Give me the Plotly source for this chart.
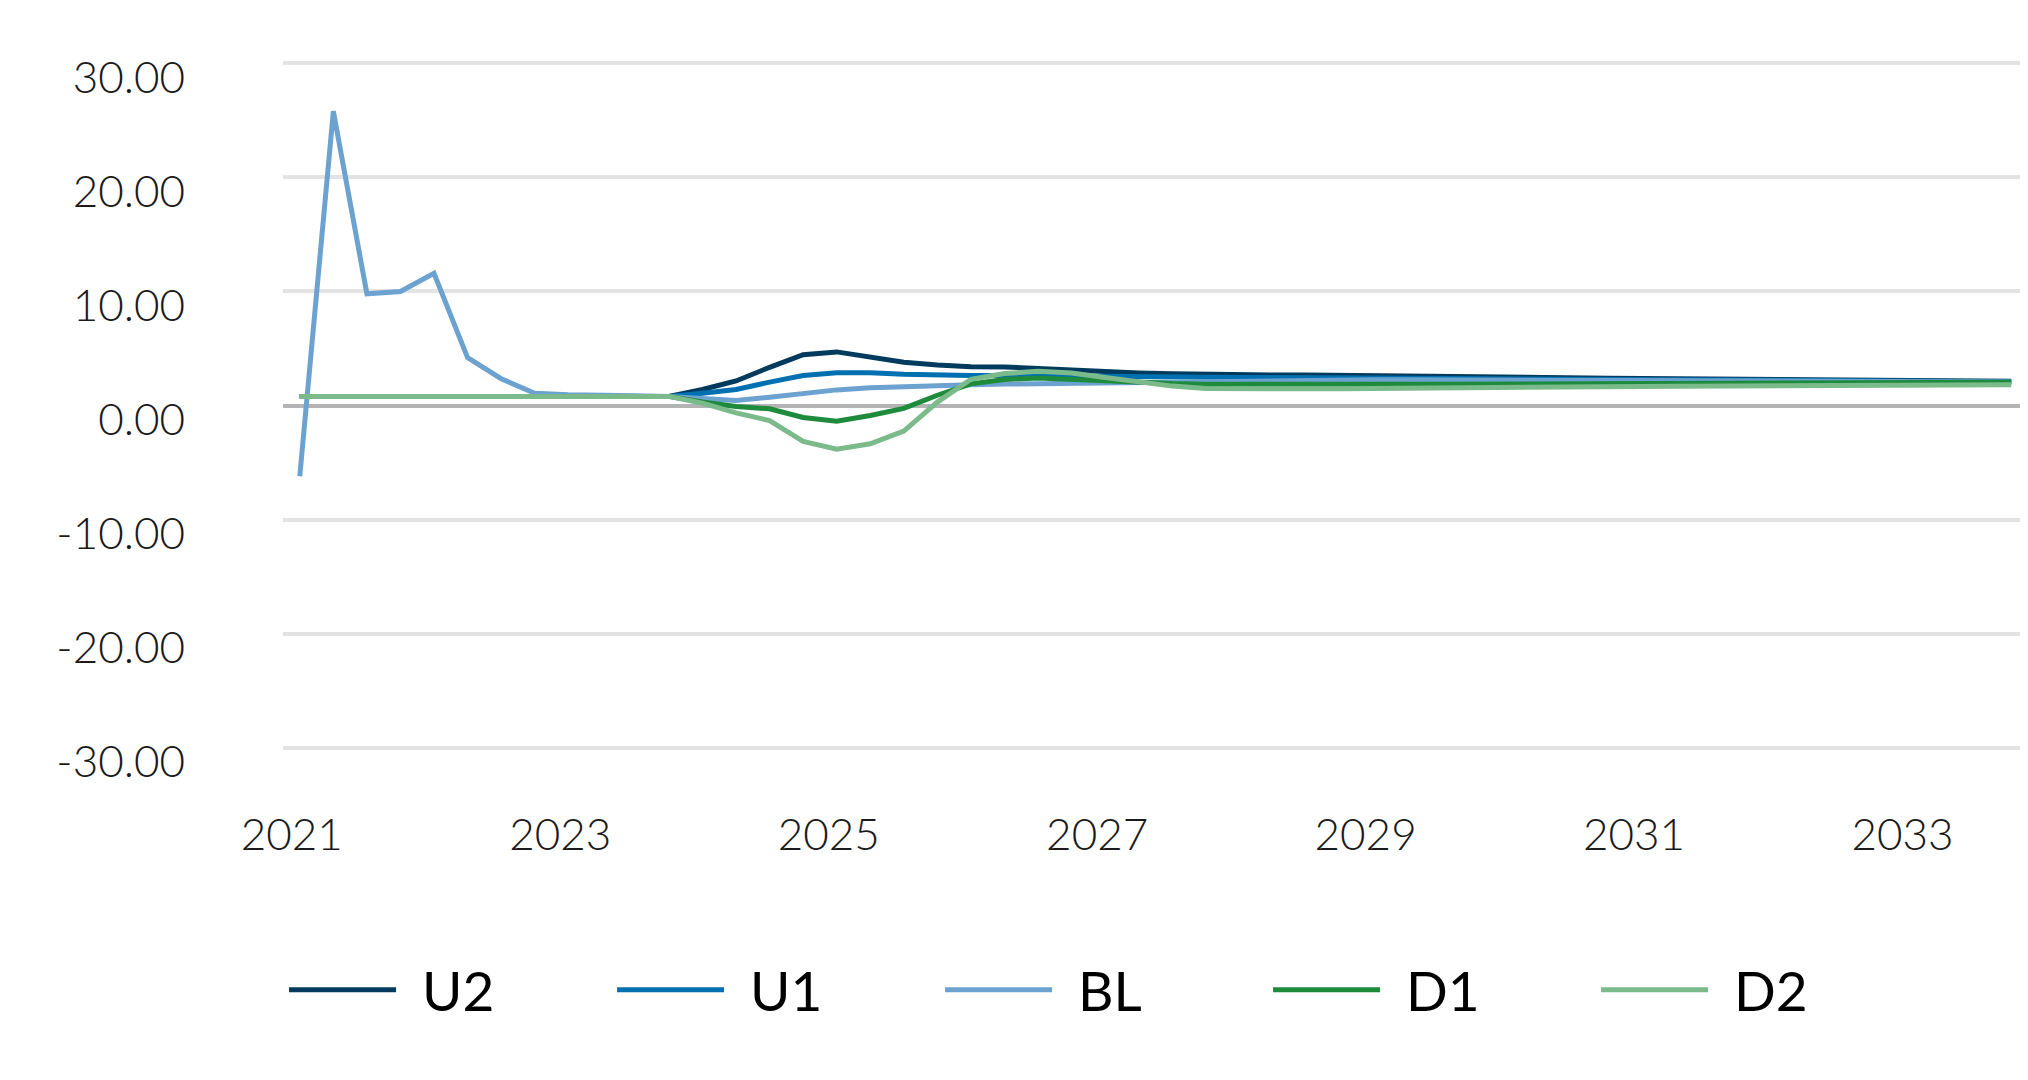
import plotly.graph_objects as go

# ---- data (quarterly, 2021Q1 .. 2033Q4) ----
quarters = [f"{y}Q{q}" for y in range(2021, 2034) for q in range(1, 5)]
tick_years = ["2021", "2023", "2025", "2027", "2029", "2031", "2033"]

U2 = [0.8, 0.8, 0.8, 0.8, 0.8, 0.8, 0.8, 0.8, 0.8, 0.8, 0.8, 0.8,
      1.4, 2.15, 3.35, 4.45, 4.7, 4.3, 3.8, 3.55, 3.4, 3.38, 3.25, 3.05,
      2.9, 2.85, 2.78, 2.72, 2.7, 2.68, 2.68, 2.66, 2.64, 2.6, 2.52, 2.5,
      2.48, 2.46, 2.45, 2.4, 2.36, 2.34, 2.32, 2.3, 2.26, 2.24, 2.22, 2.2,
      2.18, 2.16, 2.14, 2.12]
U1 = [0.8, 0.8, 0.8, 0.8, 0.8, 0.8, 0.8, 0.8, 0.8, 0.8, 0.8, 0.8,
      1.08, 1.4, 2.05, 2.63, 2.87, 2.87, 2.74, 2.65, 2.64, 2.64, 2.6, 2.56,
      2.53, 2.5, 2.48, 2.46, 2.45, 2.45, 2.44, 2.44, 2.43, 2.43, 2.42, 2.4,
      2.38, 2.36, 2.34, 2.32, 2.3, 2.28, 2.26, 2.24, 2.22, 2.2, 2.18, 2.16,
      2.14, 2.12, 2.1, 2.08]
BL = [-6.2, 25.8, 9.8, 10.0, 11.6, 4.2, 2.35, 1.08, 0.95, 0.85, 0.85, 0.8,
      0.58, 0.44, 0.73, 1.08, 1.37, 1.55, 1.67, 1.75, 1.81, 1.88, 1.92, 1.96,
      2.02, 2.07, 2.12, 2.16, 2.2, 2.22, 2.24, 2.25, 2.25, 2.25, 2.24, 2.23,
      2.22, 2.21, 2.2, 2.19, 2.18, 2.17, 2.16, 2.15, 2.14, 2.13, 2.12, 2.11,
      2.1, 2.09, 2.08, 2.07]
D1 = [0.8, 0.8, 0.8, 0.8, 0.8, 0.8, 0.8, 0.8, 0.8, 0.8, 0.8, 0.8,
      0.3, -0.09, -0.29, -1.05, -1.37, -0.88, -0.25, 0.9, 1.9, 2.28, 2.42, 2.3,
      2.1, 2.0, 1.92, 1.87, 1.85, 1.84, 1.84, 1.84, 1.85, 1.86, 1.87, 1.88,
      1.89, 1.9, 1.91, 1.92, 1.93, 1.94, 1.95, 1.96, 1.97, 1.98, 1.99, 2.0,
      2.01, 2.02, 2.03, 2.04]
D2 = [0.8, 0.8, 0.8, 0.8, 0.8, 0.8, 0.8, 0.8, 0.8, 0.8, 0.8, 0.8,
      0.2, -0.65, -1.32, -3.15, -3.83, -3.36, -2.25, 0.3, 2.3, 2.8, 3.0, 2.84,
      2.45, 2.05, 1.7, 1.5, 1.46, 1.46, 1.46, 1.47, 1.48, 1.5, 1.54, 1.56,
      1.58, 1.6, 1.62, 1.65, 1.67, 1.69, 1.71, 1.73, 1.75, 1.76, 1.77, 1.78,
      1.79, 1.8, 1.81, 1.82]

series_names = ["U2", "U1", "BL", "D1", "D2"]
series_values = [U2, U1, BL, D1, D2]
series_colors = ["#003A5D", "#0070B0", "#6CA2D0", "#1E8A3C", "#7BBA8A"]

y_ticks = [30, 20, 10, 0, -10, -20, -30]
y_ticktext = ["30.00", "20.00", "10.00", "0.00", "-10.00", "-20.00", "-30.00"]

# ---- figure ----
idx = list(range(len(quarters)))
fig = go.Figure()
for name, vals, col in zip(series_names, series_values, series_colors):
    fig.add_trace(go.Scatter(x=idx, y=vals, name="\u00a0\u2009" + name, mode="lines",
                             line=dict(color=col, width=5)))

tick_idx = [quarters.index(f"{y}Q1") for y in tick_years]
tick_font = dict(family="Lato Light, Lato", size=44, weight=300, color="#1a1a1a")

# page has an 8px body margin: figure is sized/offset to fill the 2028x1080 window
fig.update_layout(
    width=2020, height=1064,
    margin=dict(l=275, r=0, t=44, b=313, pad=0),
    paper_bgcolor="white", plot_bgcolor="white",
    font=dict(family="Lato", color="#1a1a1a"),
    showlegend=True,
    legend=dict(orientation="h", x=0.0006, xanchor="left", y=-0.3267, yanchor="middle",
                font=dict(family="Lato", size=55, color="#000000"),
                itemwidth=107, entrywidth=206, entrywidthmode="pixels",
                bgcolor="rgba(0,0,0,0)"),
)
fig.update_xaxes(range=[-0.5, len(quarters) - 0.5], showgrid=False, zeroline=False,
                 showline=False, ticks="", tickvals=tick_idx, ticktext=tick_years,
                 tickfont=tick_font, automargin=False,
                 ticklabelstandoff=46, ticklabelshift=-8)
fig.update_yaxes(range=[-31, 31], showgrid=True, gridcolor="#E3E3E3", gridwidth=4,
                 zeroline=True, zerolinecolor="#B4B4B4", zerolinewidth=4,
                 showline=False, ticks="", tickvals=y_ticks, ticktext=y_ticktext,
                 tickfont=tick_font, automargin=False,
                 ticklabelstandoff=97, ticklabelshift=14)

fig.write_html("out.html")
